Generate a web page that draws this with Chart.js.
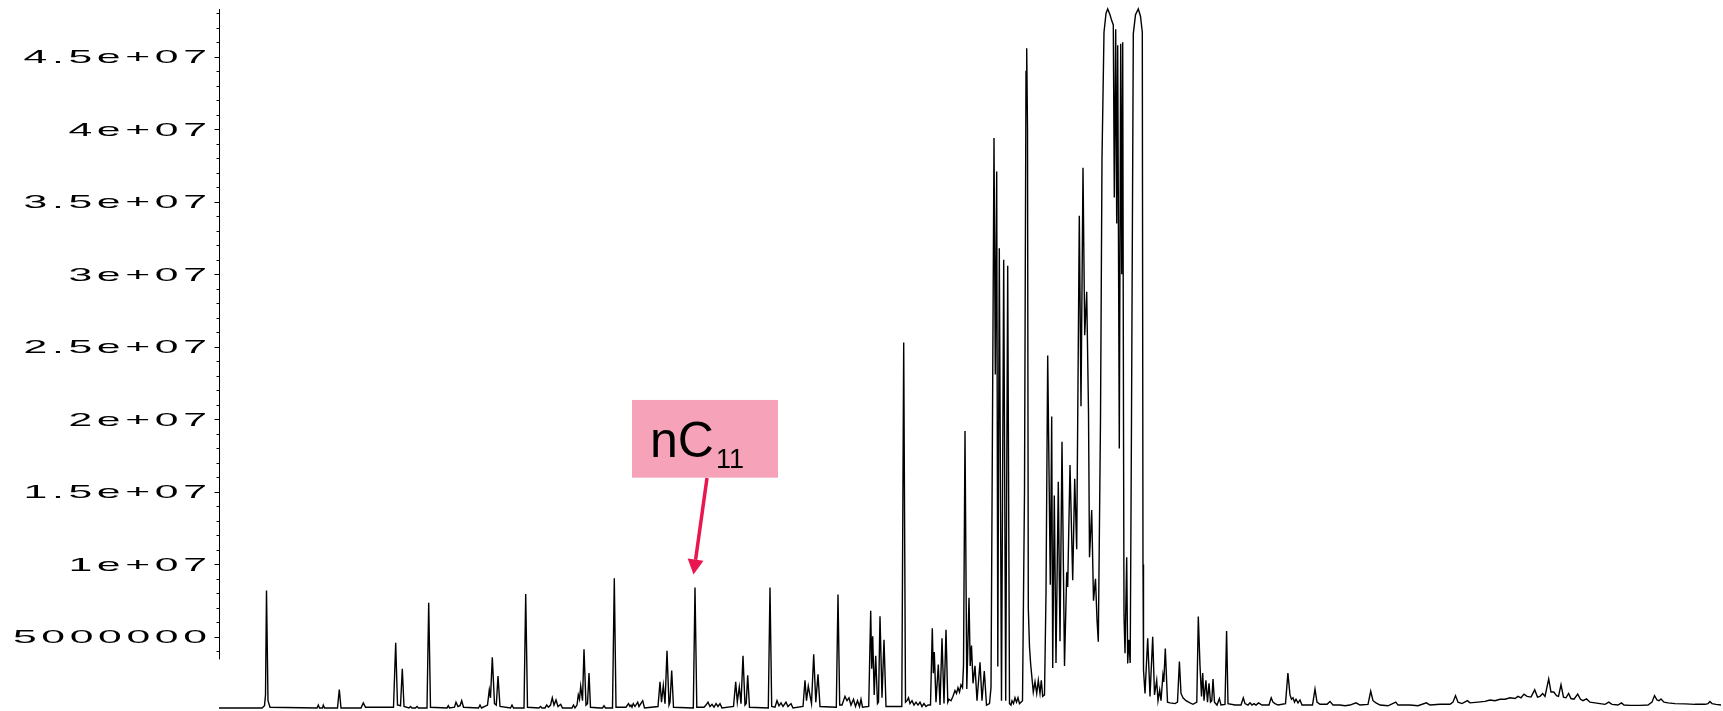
<!DOCTYPE html>
<html>
<head>
<meta charset="utf-8">
<script src="https://cdn.jsdelivr.net/npm/chart.js@4/dist/chart.umd.min.js"></script>
<style>
  html, body { margin: 0; padding: 0; background: #fff; }
  canvas { display: block; }
</style>
</head>
<body>
<canvas id="chrom" width="1723" height="711"></canvas>
<script>
// chromatogram: [scan, abundance in millions]
let earlyPeaks = [
  [219,0.1],[262,0.1],[264.5,0.25],[265.5,1.0],[266.5,8.2],[268,0.6],[270,0.15],
  [317,0.1],[318.3,0.3],[319.5,0.1],[322.5,0.1],[323.3,0.3],[324.5,0.1],
  [337.5,0.1],[339.3,1.37],[341,0.1],[361,0.1],[363.3,0.45],[365.5,0.15],
  [393.5,0.15],[395.7,4.6],[397.5,0.3],[400.5,0.25],[402.3,2.8],[404,0.2],
  [409,0.1],[410.5,0.2],[412,0.1],[415.5,0.1],[417,0.2],[418.5,0.1],
  [427,0.1],[428.7,7.35],[430.5,0.15],[447,0.1],[448.3,0.25],[449.5,0.1],
  [454.5,0.15],[456,0.5],[458,0.2],[460,0.25],[461.7,0.6],[463.5,0.15],
  [478.5,0.1],[480,0.3],[481.5,0.1],
  [487.5,0.3],[489.3,1.35],[490.5,0.8],[492.3,3.6],[494.5,0.4],[496.3,0.3],[498,2.3],[500,0.2],
  [510.5,0.1],[512,0.3],[513.5,0.1],[524,0.1],[525.7,7.95],[527.5,0.15],
  [539,0.1],[540.5,0.2],[542,0.1],[545,0.1],[546.7,0.3],[548.5,0.15],[550.5,0.3],[552.3,0.8],
  [554,0.3],[556,0.65],[558,0.2],[560.7,0.35],[562.5,0.1],
  [572,0.1],[573.5,0.3],[575,0.1],[577,0.3],[578.3,1.0],[579.5,0.7],[580.7,1.6],[582.5,0.6],
  [584,4.15],[586,0.3],[587.5,0.4],[589,2.5],[590.5,0.15]
];

let midPeaks = [
  [600,0.1],[602.5,0.1],[604,0.25],[605.5,0.1],[612.5,0.1],[614.3,9.05],[616,0.15],
  [626,0.15],[628.5,0.4],[630,0.2],[631,0.3],[632,0.15],[633.3,0.4],[635,0.2],[637.7,0.5],
  [639,0.2],[642.7,0.6],[644.5,0.1],
  [658,0.2],[660,1.9],[661.5,0.5],[663.3,1.65],[665,0.4],[667,4.05],[669,0.3],[670,0.5],
  [671.7,2.68],[673.5,0.15],[693.3,0.1],[695,8.41],[696.8,0.15],
  [704,0.15],[706,0.3],[708,0.5],[710,0.2],[712,0.35],[714,0.15],[716,0.4],[718,0.2],[720,0.4],[722,0.1],
  [733.5,0.2],[735.7,1.9],[737.3,0.5],[739.3,1.55],[741,0.4],[743,3.7],[745,0.3],[746.2,0.4],
  [747.7,2.35],[749.5,0.15],[768.3,0.1],[770,8.41],[771.7,0.2],
  [775,0.15],[777,0.6],[779,0.25],[781,0.45],[783,0.2],[786,0.5],[788,0.2],[791,0.4],[793,0.1],
  [803,0.2],[805,2.0],[806.5,0.6],[808.3,1.6],[811.5,0.4],[813.7,3.8],[815.8,0.5],[818,2.42],[820,0.2],
  [836.3,0.15],[838,7.93],[839.7,0.3],[842,0.3],[845,0.9],[847,0.6],[849,0.8],[851,0.3],
  [853.5,0.7],[855.5,0.2],[857.5,0.6],[859.5,0.2],[861,0.7],[862.5,0.15]
];

let risePeaks = [
  [868.7,0.2],[870.7,6.8],[871.7,2.8],[872.7,5.05],[874.2,1.0],[875.7,3.7],[877.5,0.4],[878.5,0.5],
  [880,6.43],[882,0.8],[884,4.8],[886,0.2],[901.8,0.2],[903.7,25.3],[905.5,0.5],
  [907,0.6],[908.5,0.8],[910,0.4],[912,0.6],[914,0.3],[916,0.5],[918,0.3],[920,0.5],[922,0.2],
  [924,0.4],[926,0.2],[928,0.3],[930.5,0.3],
  [932.3,5.6],[933.3,2.5],[934.3,3.95],[936,0.5],[938.3,3.1],[940,0.3],[942,4.9],[944,0.4],
  [946,5.5],[947.8,0.5],[949,0.7],[951,0.6],[953,0.9],[955,1.3],[956.5,1.1],[958,1.5],
  [959.5,1.2],[961,1.7],[962.5,1.5],[963.5,3.0],[965,19.2],[966.8,1.4],[969,7.7],[970.2,3.0],
  [971.5,4.4],[973,1.8],[975,3.0],[977,0.6],[980,3.25],[982,0.6],[984.3,2.65],[986.5,0.3],[989.5,0.4]
];

let mainCluster = [
  [991,1.5],[992.5,20],[994,39.4],[995.3,23.1],[996.7,37.1],[997.8,2.95],[999.3,31.8],
  [1001.5,0.6],[1003.7,31.0],[1005.7,0.6],[1007.7,30.6],[1009.5,0.4],
  [1011,0.3],[1012,0.6],[1013.5,0.4],[1015,0.8],[1016.5,0.5],[1018,0.8],[1019.5,0.4],[1021,0.5],
  [1022.5,0.6],[1024.5,15],[1026,44],[1026.7,45.6],[1027.5,40],[1028.3,7.0],[1029.5,4.3],
  [1030.7,3.1],[1033.3,1.2],[1035,1.9],[1036.7,1.1],[1038.3,2.0],[1040,1.1],[1041.3,2.0],
  [1042.7,0.9],[1044.5,1.0],[1046,8],[1047.7,24.4],[1050.3,8.6],[1051.7,20.2],[1052.7,2.85],
  [1054.3,14.75],[1056,3.2],[1058.3,15.7],[1060,4.7],[1062,18.45],[1064.5,3.0],[1066.7,9.45],
  [1067.7,8.45],[1070,16.85],[1072.7,8.9],[1074.7,15.9],[1076.7,11.05],[1079.3,34.05],
  [1081,20.9],[1083,37.35],[1084.7,25.8],[1086.7,28.8],[1088.5,20.5],[1089.5,10.5],
  [1091.7,13.75],[1093.5,7.5],[1095.5,9.0],[1097,6.2],[1098.3,4.67],
  [1100.5,20],[1102,38],[1104,46.7],[1106,48.0],[1107.7,48.3],[1110,47.9],[1111.7,47.5],
  [1113.3,47.2],[1114.3,35.3],[1115.7,46.9],[1116.7,33.5],[1117.7,45.8],[1119.3,18.0],
  [1120.7,45.9],[1121.7,30],[1122.7,46.0],[1123.5,20],[1124,6.5],[1125,3.87],[1126.7,10.5],
  [1127.7,3.16],[1128.8,4.8],[1130.2,3.2],
  [1131.5,20],[1133.3,46.6],[1135.5,47.9],[1138.3,48.3],[1140.5,47.8],[1142.3,46.7],[1143,10],
  [1143.5,2.72],[1145,1.1],[1147.7,4.9],[1150,0.9],[1152.7,5.0],[1154.5,1.0],[1156.7,2.0],
  [1158,0.6],[1159.7,1.33],[1161,0.6],[1162.9,2.35],[1163.8,1.9],[1165.3,4.2],[1167.5,0.5]
];

let latePeaks = [
  [1170,0.45],[1175,0.4],[1177.5,0.5],[1179.4,3.3],[1181,1.1],[1183,0.8],[1186,0.6],[1190,0.45],
  [1193,0.35],[1196.8,0.5],[1198.3,6.4],[1200,3.0],[1201.5,0.9],[1202.7,2.5],[1204,0.6],
  [1205.9,2.0],[1207.5,0.5],[1209,1.8],[1210.5,0.5],[1211.8,0.6],[1213,2.1],[1214.5,0.5],
  [1217,0.3],[1219.4,0.75],[1221,0.3],[1225,0.35],[1226.6,5.4],[1228,0.4],[1235,0.3],
  [1241,0.3],[1243.3,0.8],[1245,0.4],[1248,0.3],[1250,0.45],[1252,0.3],[1254,0.4],[1256,0.3],
  [1258.5,0.45],[1262,0.3],[1269,0.3],[1271.2,0.8],[1273,0.5],[1275,0.4],[1278,0.3],
  [1285.5,0.4],[1287.9,2.5],[1290,1.0],[1291.5,0.7],[1293,0.8],[1294.5,0.5],[1296,0.7],
  [1298,0.45],[1300,0.65],[1302,0.3],[1312.5,0.3],[1315,1.4],[1317,0.5],[1320,0.35],
  [1327,0.35],[1330,0.55],[1333,0.3],[1340,0.3],[1345,0.25],[1350,0.3],[1356,0.45],[1360,0.3],
  [1368,0.35],[1370.7,1.25],[1373,0.6],[1376,0.45],[1380,0.3],[1388,0.25],[1395.8,0.5],
  [1398,0.3],[1410,0.3],[1418,0.25],[1426.4,0.45],[1430,0.3],[1440,0.35],[1450,0.35],
  [1453,0.5],[1455.5,0.95],[1458,0.5],[1462,0.4],[1467.4,0.6],[1470,0.45],[1478,0.5],
  [1485,0.55],[1490,0.65],[1495,0.6],[1500,0.7],[1505,0.7],[1510,0.8],[1515,0.75],[1518,0.9],
  [1521,0.8],[1524,1.05],[1527,0.9],[1531,0.85],[1534.7,1.35],[1537.5,0.85],[1540,0.9],
  [1542.7,1.1],[1545,0.9],[1548.7,2.1],[1551,1.2],[1553.8,1.2],[1556.5,0.95],[1558.5,0.9],
  [1561,1.7],[1563.5,0.85],[1566,0.8],[1568.6,1.1],[1571,0.75],[1574,0.7],[1577.7,1.05],
  [1580.5,0.7],[1583,0.6],[1586.5,0.72],[1590,0.5],[1595,0.45],[1600,0.4],[1605,0.35],
  [1608.8,0.5],[1612,0.35],[1618,0.3],[1621.5,0.45],[1624,0.3],[1630,0.28],[1640,0.28],
  [1648,0.3],[1652,0.5],[1654.5,0.95],[1657,0.65],[1659,0.6],[1661,0.72],[1664,0.5],
  [1668,0.45],[1675,0.4],[1685,0.38],[1695,0.35],[1705,0.35],[1708,0.4],[1709.9,0.55],
  [1712,0.4],[1716,0.35],[1721,0.3]
];

// y axis (values in millions)
let yTickValues = [5, 10, 15, 20, 25, 30, 35, 40, 45];
let yTickLabels = ['5000000', '1e+07', '1.5e+07', '2e+07', '2.5e+07', '3e+07', '3.5e+07', '4e+07', '4.5e+07'];
let yMax = 48.3;
let axisStart = 3.45;

// nC11 callout
let noteText = 'nC';
let noteSub = '11';
let noteBox = { x0: 632, x1: 778, top: 21.34, bottom: 15.98 };
let noteArrow = { fromX: 707, fromY: 15.95, toX: 693.5, toY: 9.3 };

let points = [];
for (let seg of [earlyPeaks, midPeaks, risePeaks, mainCluster, latePeaks]) {
  for (let p of seg) {
    points.push({ x: p[0], y: p[1] });
  }
}

// y axis drawn by hand: line stops above zero, labels are stretched wide
const yAxisDraw = {
  id: 'yAxisDraw',
  afterDraw(chart) {
    let ctx = chart.ctx;
    let ys = chart.scales.y;
    let ax = 219.5;
    ctx.save();
    ctx.strokeStyle = '#000';
    ctx.lineWidth = 1;
    ctx.beginPath();
    ctx.moveTo(ax, ys.getPixelForValue(yMax));
    ctx.lineTo(ax, ys.getPixelForValue(axisStart));
    for (let v = 4; v <= 48; v++) {
      let p = Math.round(ys.getPixelForValue(v)) + 0.5;
      let len = v % 5 === 0 ? 5 : 3;
      ctx.moveTo(ax - len, p);
      ctx.lineTo(ax, p);
    }
    ctx.stroke();

    let sx = 2.3, gap = 2;
    ctx.fillStyle = '#000';
    ctx.font = '18.6px "Liberation Sans", Arial, sans-serif';
    ctx.letterSpacing = gap + 'px';
    ctx.textBaseline = 'alphabetic';
    for (let i = 0; i < yTickValues.length; i++) {
      let label = yTickLabels[i];
      let w = ctx.measureText(label).width - gap;
      let p = ys.getPixelForValue(yTickValues[i]);
      ctx.save();
      ctx.translate(207, p + 6.6);
      ctx.scale(sx, 1);
      ctx.fillText(label, -w, 0);
      ctx.restore();
    }
    ctx.restore();
  }
};

const callout = {
  id: 'callout',
  afterDraw(chart) {
    let ctx = chart.ctx;
    let xs = chart.scales.x, ys = chart.scales.y;
    let left = xs.getPixelForValue(noteBox.x0);
    let right = xs.getPixelForValue(noteBox.x1);
    let top = ys.getPixelForValue(noteBox.top);
    let bottom = ys.getPixelForValue(noteBox.bottom);
    ctx.save();
    ctx.fillStyle = '#F6A3B9';
    ctx.fillRect(left, top, right - left, bottom - top);

    ctx.fillStyle = '#000';
    ctx.font = '50px "Liberation Sans", Arial, sans-serif';
    ctx.textBaseline = 'alphabetic';
    ctx.fillText(noteText, left + 18, top + 57);
    let w = ctx.measureText(noteText).width;
    ctx.font = '27px "Liberation Sans", Arial, sans-serif';
    ctx.fillText(noteSub, left + 18 + w + 2, top + 68);

    // arrow
    let x1 = xs.getPixelForValue(noteArrow.fromX), y1 = ys.getPixelForValue(noteArrow.fromY);
    let x2 = xs.getPixelForValue(noteArrow.toX), y2 = ys.getPixelForValue(noteArrow.toY);
    let ang = Math.atan2(y2 - y1, x2 - x1);
    let headLen = 15, headW = 8;
    let bx = x2 - headLen * Math.cos(ang), by = y2 - headLen * Math.sin(ang);
    ctx.strokeStyle = '#E8174F';
    ctx.fillStyle = '#E8174F';
    ctx.lineWidth = 3.5;
    ctx.beginPath();
    ctx.moveTo(x1, y1);
    ctx.lineTo(bx, by);
    ctx.stroke();
    ctx.beginPath();
    ctx.moveTo(x2, y2);
    ctx.lineTo(bx + headW * Math.sin(ang), by - headW * Math.cos(ang));
    ctx.lineTo(bx - headW * Math.sin(ang), by + headW * Math.cos(ang));
    ctx.closePath();
    ctx.fill();
    ctx.restore();
  }
};

new Chart(document.getElementById('chrom'), {
  type: 'line',
  data: {
    datasets: [{
      data: points,
      borderColor: '#000',
      borderWidth: 1.4,
      pointRadius: 0,
      tension: 0,
      fill: false,
      clip: false
    }]
  },
  options: {
    responsive: false,
    animation: false,
    devicePixelRatio: 1,
    layout: { padding: { left: 219, right: 2, top: 9, bottom: 1.6 } },
    plugins: { legend: { display: false }, tooltip: { enabled: false } },
    scales: {
      x: { type: 'linear', min: 219, max: 1721, display: false },
      y: { type: 'linear', min: 0, max: yMax, display: false }
    }
  },
  plugins: [yAxisDraw, callout]
});
</script>
</body>
</html>
